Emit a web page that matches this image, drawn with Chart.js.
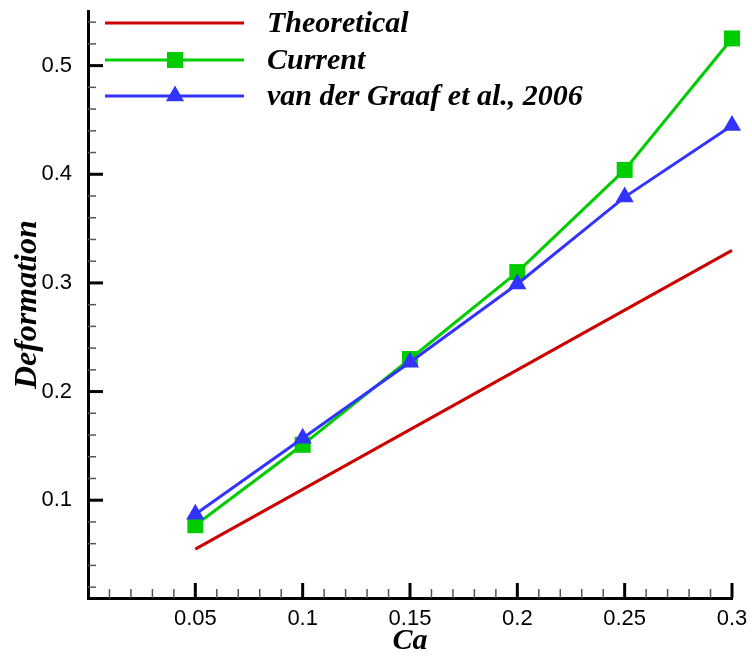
<!DOCTYPE html>
<html>
<head>
<meta charset="utf-8">
<script src="https://cdn.jsdelivr.net/npm/chart.js@4.4.1/dist/chart.umd.min.js"></script>
<style>
  html, body { margin: 0; padding: 0; background: #fff; }
  #deformChart { display: block; }
</style>
</head>
<body>
<canvas id="deformChart" width="752" height="659"></canvas>
<script>
// values
var CA = [0.05, 0.1, 0.15, 0.2, 0.25, 0.3];
var THEORETICAL = [0.055, 0.11, 0.165, 0.22, 0.275, 0.33];
var CURRENT = [0.077, 0.151, 0.230, 0.310, 0.404, 0.525];
var VAN_DER_GRAAF = [0.087, 0.157, 0.227, 0.299, 0.379, 0.445];

var X_TICKS = [0.05, 0.1, 0.15, 0.2, 0.25, 0.3];
var X_TICK_LABELS = ['0.05', '0.1', '0.15', '0.2', '0.25', '0.3'];
var Y_TICKS = [0.1, 0.2, 0.3, 0.4, 0.5];
var Y_TICK_LABELS = ['0.1', '0.2', '0.3', '0.4', '0.5'];

var SERIES_NAMES = ['Theoretical', 'Current', 'van der Graaf et al., 2006'];
var RED = '#cc0000', GREEN = '#00cc00', BLUE = '#3333ff';
var SERIF = "'Liberation Serif', 'Times New Roman', serif";
var SANS = "'Liberation Sans', Arial, sans-serif";

function toPoints(ys) {
    return CA.map((x, i) => ({ x: x, y: ys[i] }));
}

// inward major / minor tick marks like the original plot
var innerTicks = {
    id: 'innerTicks',
    afterDatasetsDraw(chart) {
        var ctx = chart.ctx, xs = chart.scales.x, ys = chart.scales.y;
        var area = chart.chartArea;
        ctx.save();
        ctx.strokeStyle = '#555';
        ctx.lineWidth = 1.5;
        for (var i = 1; i < 30; i++) {
            if (i % 5 === 0) continue;
            var px = xs.getPixelForValue(i / 100);
            ctx.beginPath(); ctx.moveTo(px, area.bottom); ctx.lineTo(px, area.bottom - 9); ctx.stroke();
        }
        for (var j = 1; j <= 27; j++) {
            if (j % 5 === 0) continue;
            var py = ys.getPixelForValue(j * 0.02);
            ctx.beginPath(); ctx.moveTo(area.left, py); ctx.lineTo(area.left + 8, py); ctx.stroke();
        }
        ctx.strokeStyle = '#000';
        ctx.lineWidth = 3;
        X_TICKS.forEach(v => {
            var px = xs.getPixelForValue(v);
            ctx.beginPath(); ctx.moveTo(px, area.bottom); ctx.lineTo(px, area.bottom - 15); ctx.stroke();
        });
        Y_TICKS.forEach(v => {
            var py = ys.getPixelForValue(v);
            ctx.beginPath(); ctx.moveTo(area.left, py); ctx.lineTo(area.left + 15, py); ctx.stroke();
        });
        ctx.restore();
    }
};

// legend in the upper-left corner of the plot
var insideLegend = {
    id: 'insideLegend',
    afterDraw(chart) {
        var ctx = chart.ctx;
        var rows = [
            { color: RED, style: false, y: 23 },
            { color: GREEN, style: 'rect', radius: 11.3, y: 60 },
            { color: BLUE, style: 'triangle', radius: 10.5, y: 96 }
        ];
        ctx.save();
        rows.forEach((r, i) => {
            ctx.strokeStyle = r.color;
            ctx.lineWidth = 3;
            ctx.beginPath(); ctx.moveTo(105, r.y); ctx.lineTo(244, r.y); ctx.stroke();
            if (r.style) {
                ctx.fillStyle = r.color;
                Chart.helpers.drawPoint(ctx, { pointStyle: r.style, radius: r.radius, rotation: 0, borderWidth: 0 }, 175, r.y);
            }
            ctx.fillStyle = '#000';
            ctx.font = 'italic bold 30px ' + SERIF;
            ctx.textAlign = 'left';
            ctx.textBaseline = 'alphabetic';
            ctx.fillText(SERIES_NAMES[i], 267, r.y + 9);
        });
        ctx.restore();
    }
};

var CHART_CONFIG = {
    type: 'line',
    data: {
        datasets: [
            { label: SERIES_NAMES[0], data: toPoints(THEORETICAL), borderColor: RED, backgroundColor: RED,
              borderWidth: 3, pointRadius: 0, order: 2 },
            { label: SERIES_NAMES[1], data: toPoints(CURRENT), borderColor: GREEN, backgroundColor: GREEN,
              borderWidth: 3, pointStyle: 'rect', pointRadius: 11.3, pointBorderWidth: 0, order: 1 },
            { label: SERIES_NAMES[2], data: toPoints(VAN_DER_GRAAF), borderColor: BLUE, backgroundColor: BLUE,
              borderWidth: 3, pointStyle: 'triangle', pointRadius: 10.5, pointBorderWidth: 0, order: 0 }
        ]
    },
    options: {
        responsive: false,
        animation: false,
        clip: false,
        layout: { padding: { top: 9, right: 20, left: 0, bottom: 0 } },
        plugins: { legend: { display: false }, tooltip: { enabled: false } },
        scales: {
            x: {
                type: 'linear', min: 0, max: 0.3,
                afterBuildTicks: s => { s.ticks = X_TICKS.map(v => ({ value: v })); },
                afterFit: s => { s.height = 61; s.paddingLeft = 0; s.paddingRight = 0; },
                grid: { display: false },
                border: { display: true, color: '#000', width: 3 },
                ticks: {
                    autoSkip: false, maxRotation: 0, padding: 0, color: '#000',
                    font: { family: SANS, size: 22 },
                    callback: v => X_TICK_LABELS[X_TICKS.indexOf(v)]
                },
                title: {
                    display: true, text: 'Ca', color: '#000',
                    font: { family: SERIF, size: 30, style: 'italic', weight: 'bold' },
                    padding: { top: 0, bottom: 0 }
                }
            },
            y: {
                type: 'linear', min: 0.01, max: 0.55,
                afterBuildTicks: s => { s.ticks = Y_TICKS.map(v => ({ value: v })); },
                afterFit: s => { s.width = 88; s.paddingTop = 0; s.paddingBottom = 0; },
                grid: { display: false },
                border: { display: true, color: '#000', width: 3 },
                ticks: {
                    autoSkip: false, padding: 8, color: '#000',
                    font: { family: SANS, size: 22 },
                    callback: v => Y_TICK_LABELS[Y_TICKS.indexOf(v)]
                },
                title: {
                    display: true, text: 'Deformation', color: '#000',
                    font: { family: SERIF, size: 32, style: 'italic', weight: 'bold' },
                    padding: { top: 9, bottom: 0 }
                }
            }
        }
    },
    plugins: [innerTicks, insideLegend]
};

var CHART = new Chart(document.getElementById('deformChart'), CHART_CONFIG);
</script>
</body>
</html>
